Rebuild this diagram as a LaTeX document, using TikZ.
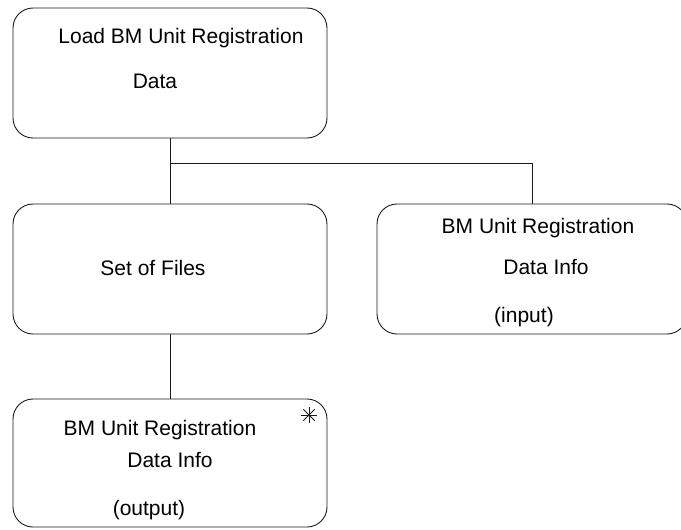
\documentclass[tikz,border=0pt]{standalone}
\usepackage{fontspec}
\setmainfont{Liberation Sans}
\usepackage{tikz}
\usetikzlibrary{positioning,calc}
\definecolor{bxline}{HTML}{1A1A1A}
\tikzset{
  px/.style={x=1pt,y=-1pt},
  caixa/.style={draw=bxline,line width=0.9pt,rounded corners=20pt,fill=white,
    minimum width=314pt,minimum height=130pt,inner sep=0pt},
  rot/.style={font=\fontsize{21}{24}\selectfont,text=black,inner sep=0pt,anchor=center},
  liga/.style={draw=bxline,line width=0.9pt},
}
\begin{document}
\begin{tikzpicture}[px]
  \useasboundingbox (0,0) rectangle (681,530);
  % caixas
  \node[caixa] (load) at (170,73) {};
  \node[caixa] (files) at (170,269) {};
  \node[caixa,minimum width=310pt] (input) at (532,269) {};
  \node[caixa,minimum height=128pt] (output) at (170,463) {};
  % textos
  \node[rot] (loadA) at (181,38) {Load BM Unit Registration};
  \node[rot] (loadB) at (155,81) {Data};
  \node[rot] (filesA) at (153,268) {Set of Files};
  \node[rot] (inA) at (538,228) {BM Unit Registration};
  \node[rot] (inB) at (546,267) {Data Info};
  \node[rot] (inC) at (524,317) {(input)};
  \node[rot] (outA) at (160,430) {BM Unit Registration};
  \node[rot] (outB) at (170,460) {Data Info};
  \node[rot] (outC) at (149,510) {(output)};
  % asterisco
  \node[inner sep=0pt,minimum size=16pt] (star) at (309,415) {};
  \foreach \a in {0,45,90,135}
    \draw[bxline,line width=0.8pt] (star.center) ++(\a:8) -- ++(\a+180:16);
  % ligacoes
  \coordinate (split) at (170,163);
  \draw[liga] (load.south) -- (files.north);
  \draw[liga] (split) -| (input.north);
  \draw[liga] (files.south) -- (output.north);
\end{tikzpicture}
\end{document}
